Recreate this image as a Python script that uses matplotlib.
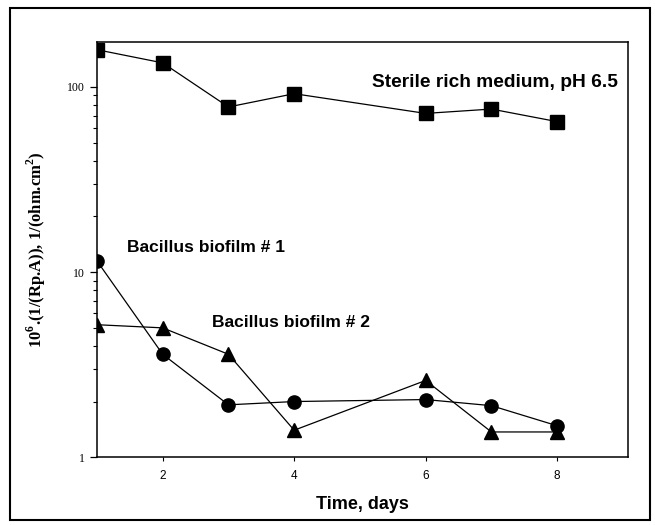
import matplotlib
matplotlib.use('Agg')
from matplotlib import pyplot as plt
from matplotlib.patches import Rectangle
from matplotlib.ticker import LogLocator, NullFormatter, FixedLocator

# data
days = [1, 2, 3, 4, 6, 7, 8]
sterile = [159, 135, 78, 92, 72, 76, 65]
biofilm1 = [11.5, 3.6, 1.92, 2.0, 2.05, 1.9, 1.48]
biofilm2 = [5.2, 5.0, 3.6, 1.4, 2.6, 1.37, 1.37]
xticks = [2, 4, 6, 8]
yticks = [1, 10, 100]

plt.rcParams['mathtext.fontset'] = 'custom'
plt.rcParams['mathtext.bf'] = 'Liberation Serif:bold'
plt.rcParams['mathtext.rm'] = 'Liberation Serif:bold'

lab = ['Liberation Sans', 'DejaVu Sans']

fig = plt.figure(figsize=(6.55, 5.25), dpi=100)
ax = fig.add_axes([0.148, 0.129, 0.811, 0.791])

ax.plot(days, sterile, color='black', lw=0.9, marker='s', ms=10)
ax.plot(days, biofilm1, color='black', lw=0.9, marker='o', ms=9.5)
ax.plot(days, biofilm2, color='black', lw=0.9, marker='^', ms=10.5)

ax.set_yscale('log')
ax.set_ylim(1, 175)
ax.set_xlim(1, 9.08)
ax.xaxis.set_major_locator(FixedLocator(xticks))
ax.yaxis.set_major_locator(FixedLocator(yticks))
ax.yaxis.set_minor_locator(LogLocator(base=10, subs=range(2, 10)))
ax.yaxis.set_minor_formatter(NullFormatter())
ax.set_yticklabels(['1', '10', '100'], family='Liberation Serif', fontsize=8.5)
ax.set_xticklabels([str(t) for t in xticks], family='Liberation Sans', fontsize=8.5)
ax.tick_params(axis='y', which='major', direction='out', length=5, width=0.9)
ax.tick_params(axis='y', which='minor', direction='out', length=3, width=0.8)
ax.tick_params(axis='x', direction='out', length=3, width=0.8, pad=6)
for s in ax.spines.values():
    s.set_linewidth(1.1)

ax.set_xlabel('Time, days', family=lab, fontweight='bold', fontsize=13, labelpad=10)
ax.set_ylabel(r'10$^{\mathbf{6}}$.(1/(Rp.A)), 1/(ohm.cm$^{\mathbf{2}}$)', family='Liberation Serif',
              fontweight='bold', fontsize=12, labelpad=14)

fig.text(0.568, 0.842, 'Sterile rich medium, pH 6.5', family=lab, fontweight='bold',
         fontsize=13.8, va='center')
fig.text(0.194, 0.528, 'Bacillus biofilm # 1', family=lab, fontweight='bold',
         fontsize=12.5, va='center')
fig.text(0.324, 0.386, 'Bacillus biofilm # 2', family=lab, fontweight='bold',
         fontsize=12.5, va='center')

# scanned page frame
fig.patches.append(Rectangle((0.015, 0.01), 0.977, 0.975, transform=fig.transFigure,
                             fill=False, lw=1.5, color='black'))

plt.savefig('out.png', dpi=100)
